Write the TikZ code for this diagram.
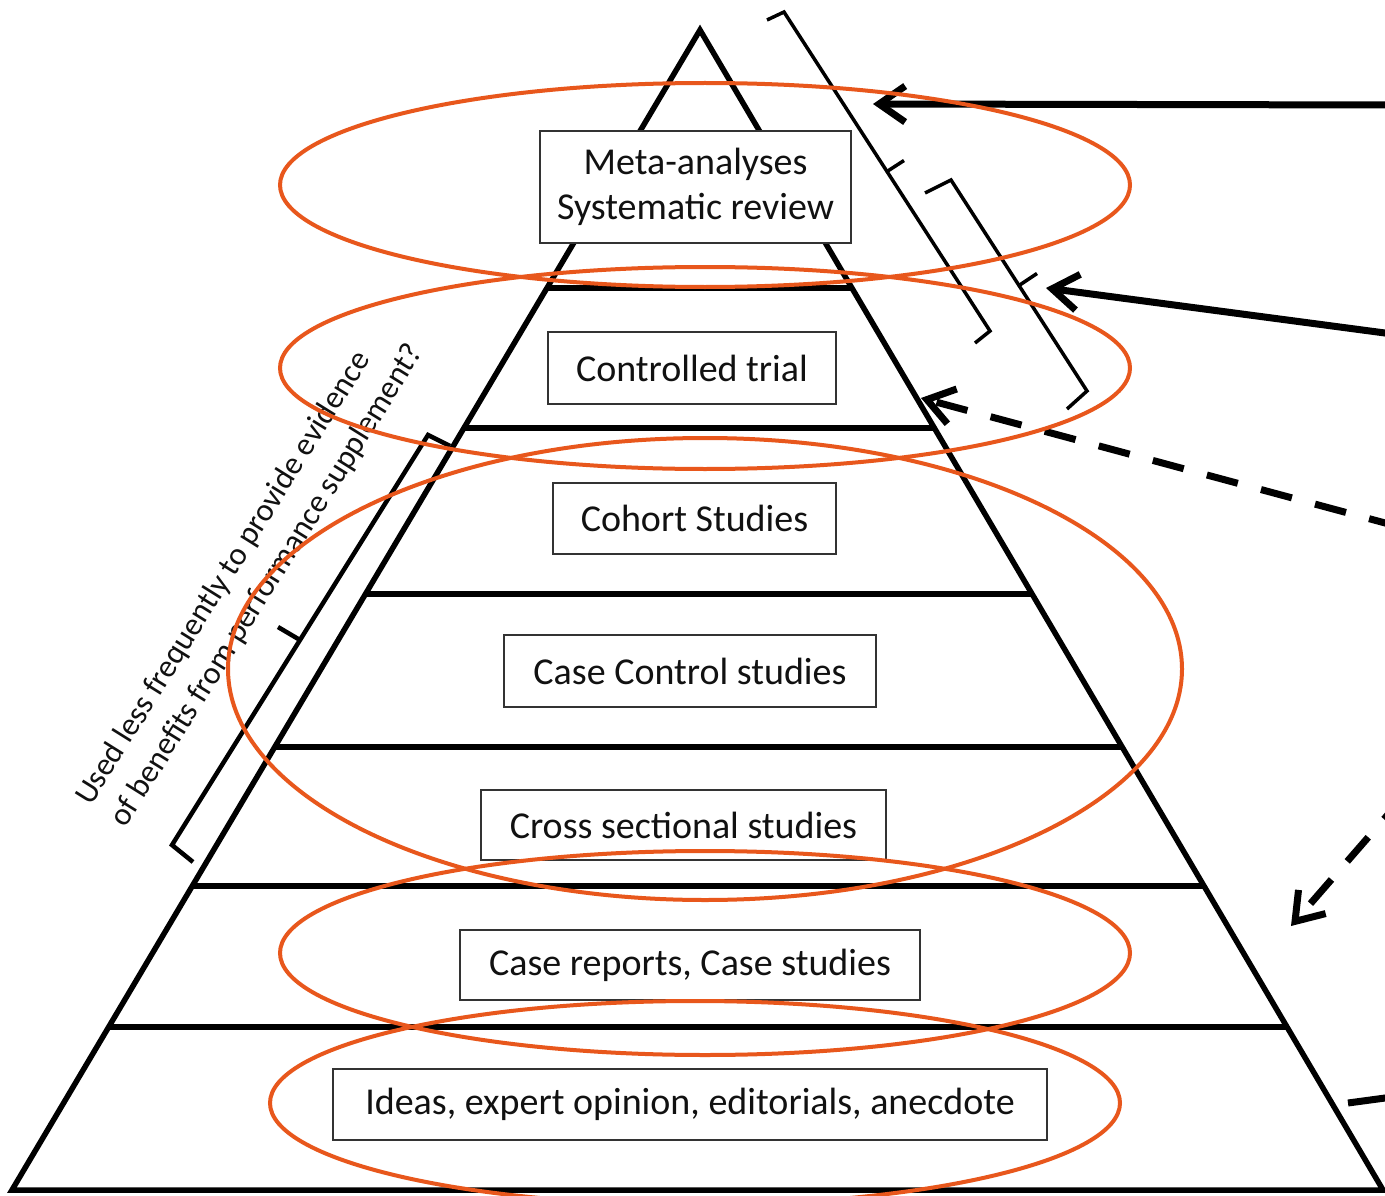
\documentclass[tikz,border=0pt]{standalone}
\usepackage{fontspec}
\setmainfont{Carlito}
\usetikzlibrary{arrows.meta,calc}
\definecolor{orng}{HTML}{E8571C}
\definecolor{boxline}{HTML}{333333}
\definecolor{txt}{HTML}{111111}
\begin{document}
\begin{tikzpicture}[x=1pt,y=-1pt,
  pyr/.style={line width=5.5pt, line join=miter},
  tier/.style={line width=6pt},
  lvl/.style={draw=boxline, line width=2.2pt, fill=white, text=txt, font=\fontsize{38}{45}\selectfont, inner sep=0pt, align=center},
  brk/.style={line width=3.5pt, line join=miter},
  oval/.style={draw=orng, line width=4pt},
  arr/.style={line width=7pt, -{Straight Barb[length=26pt,width=36pt]}},
  darr/.style={arr, dash pattern=on 32pt off 24pt},
]
\useasboundingbox (0,0) rectangle (1385,1196);
\clip (0,0) rectangle (1385,1196);
\fill[white] (0,0) rectangle (1385,1196);

% pyramid
\coordinate (apex) at (700,30);
\coordinate (bl) at (12,1190);
\coordinate (br) at (1383,1190);
\draw[pyr] (apex) -- (bl) -- (br) -- cycle;
\foreach \yy in {288,428,594,747,886,1027}{
  \pgfmathsetmacro\tt{(\yy-30)/1160}
  \draw[tier] ($(apex)!\tt!(bl)$) -- ($(apex)!\tt!(br)$);
}

% right brackets
\coordinate (r1a) at (767,20);
\coordinate (r1b) at (784,12);
\coordinate (r1c) at (990,331);
\coordinate (r1d) at (975,343);
\coordinate (r1m) at ($(r1b)!0.5!(r1c)$);
\coordinate (r1t) at ($(r1m)+(17,-11)$);
\draw[brk] (r1a) -- (r1b) -- (r1c) -- (r1d);
\draw[brk] (r1m) -- (r1t);

\coordinate (r2a) at (925,193);
\coordinate (r2b) at (951,180);
\coordinate (r2c) at (1087,391);
\coordinate (r2d) at (1067,409);
\coordinate (r2m) at ($(r2b)!0.5!(r2c)$);
\coordinate (r2t) at ($(r2m)+(18,-12)$);
\draw[brk] (r2a) -- (r2b) -- (r2c) -- (r2d);
\draw[brk] (r2m) -- (r2t);

% left bracket
\coordinate (lba) at (450,446);
\coordinate (lbb) at (428,435);
\coordinate (lbc) at (172,845);
\coordinate (lbd) at (193,862);
\coordinate (lbm) at ($(lbb)!0.5!(lbc)$);
\coordinate (lbt) at ($(lbm)+(-22,-13)$);
\draw[brk, line width=4.5pt] (lba) -- (lbb) -- (lbc) -- (lbd);
\draw[brk, line width=4.5pt] (lbm) -- (lbt);

% arrows
\coordinate (a1s) at (1400,105);
\coordinate (a1e) at (873,104);
\draw[arr] (a1s) -- (a1e);
\coordinate (a2s) at (1400,335);
\coordinate (a2e) at (1046,288);
\draw[arr] (a2s) -- (a2e);
\coordinate (a3s) at (1400,527);
\coordinate (a3e) at (921,398);
\draw[darr] (a3s) -- (a3e);
\coordinate (a4s) at (1405,795);
\coordinate (a4e) at (1291,926);
\draw[darr] (a4s) -- (a4e);
\coordinate (l5s) at (1348,1103);
\coordinate (l5e) at (1400,1096);
\draw[line width=7pt] (l5s) -- (l5e);

% level boxes
\node[lvl, minimum width=311pt, minimum height=112pt] (meta) at (695.5,187) {Meta-analyses\\Systematic review};
\node[lvl, minimum width=288pt, minimum height=72pt] (ct) at (692,368) {Controlled trial};
\node[lvl, minimum width=283pt, minimum height=71pt] (coh) at (694.5,518.5) {Cohort Studies};
\node[lvl, minimum width=372pt, minimum height=72pt] (cc) at (690,671) {Case Control studies};
\node[lvl, minimum width=405pt, minimum height=70pt] (cs) at (683.5,825) {Cross sectional studies};
\node[lvl, minimum width=460pt, minimum height=70pt] (cr) at (690,965) {Case reports, Case studies};
\node[lvl, minimum width=714pt, minimum height=71pt] (ideas) at (690,1104.5) {Ideas, expert opinion, editorials, anecdote};

% rotated note
\node[rotate=58, align=left, font=\fontsize{32}{41}\selectfont, text=txt, inner sep=0pt] (note) at (250,575) {Used less frequently to provide evidence\\of benefits from performance supplement?};

% orange ellipses
\draw[oval] (705,185) ellipse [x radius=425pt, y radius=102pt];
\draw[oval] (705,368) ellipse [x radius=425pt, y radius=101pt];
\draw[oval] (705,669) ellipse [x radius=477pt, y radius=231pt];
\draw[oval] (705,953) ellipse [x radius=425pt, y radius=102pt];
\draw[oval] (695,1103) ellipse [x radius=425pt, y radius=102pt];
\end{tikzpicture}
\end{document}
